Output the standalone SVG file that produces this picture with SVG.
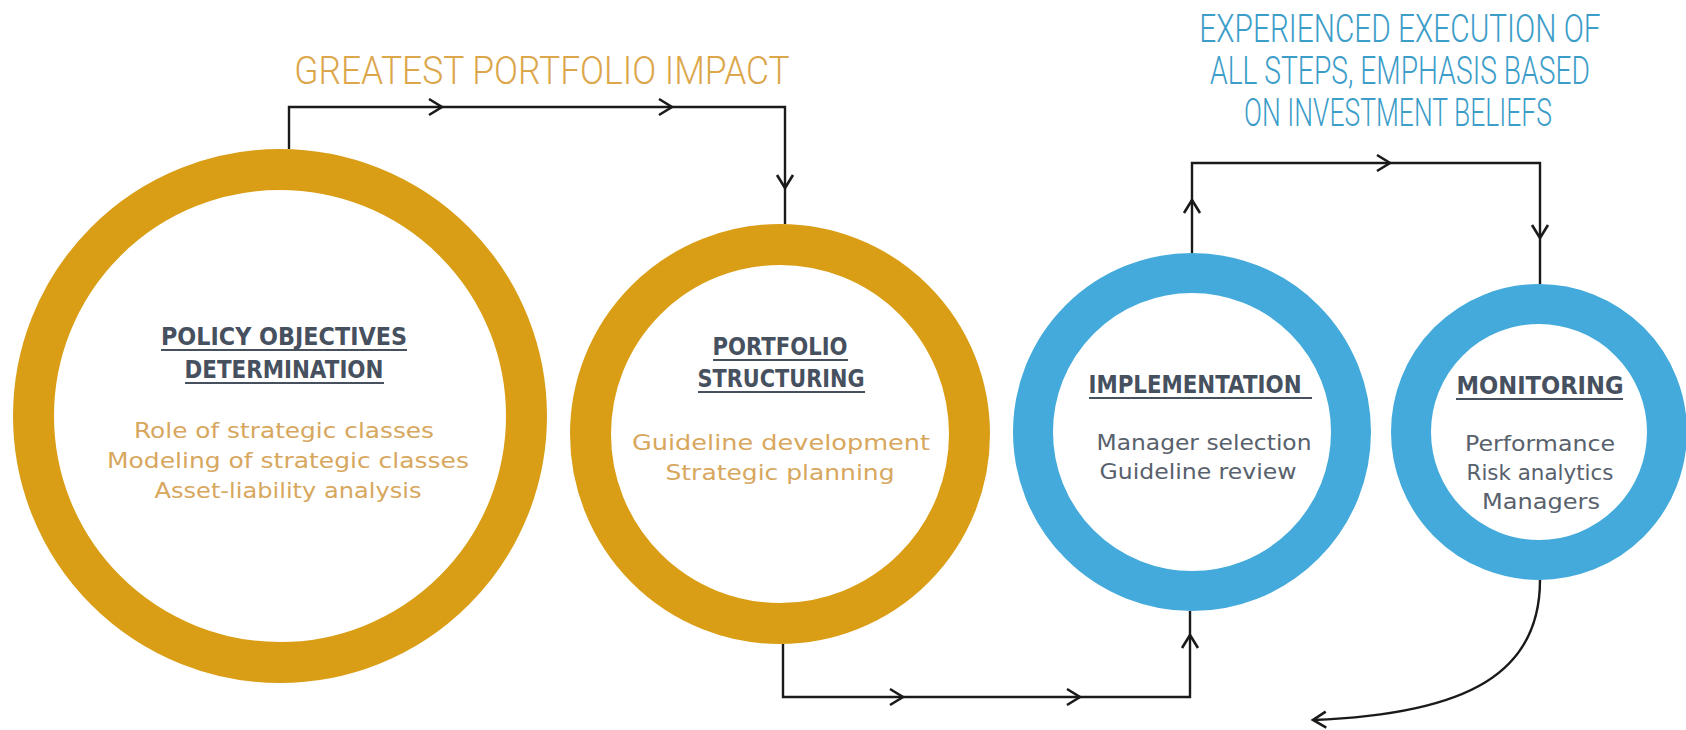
<svg xmlns="http://www.w3.org/2000/svg" xmlns:xlink="http://www.w3.org/1999/xlink" width="1686" height="730" viewBox="0 0 1686 730">
  <style>
    .ring-gold { fill: none; stroke: #DA9E16; }
    .ring-blue { fill: none; stroke: #43AADB; }
    .head { font-family: "DejaVu Sans", "Liberation Sans", sans-serif; font-weight: bold; font-size: 24px; fill: #46505E; text-anchor: middle; }
    .uline { stroke: #46505E; stroke-width: 2; }
    .body-gold { font-family: "DejaVu Sans", "Liberation Sans", sans-serif; font-size: 22px; fill: #D7A75E; text-anchor: middle; }
    .body-gray { font-family: "DejaVu Sans", "Liberation Sans", sans-serif; font-size: 22px; fill: #58616C; text-anchor: middle; }
    .title { font-family: Roboto, "Liberation Sans", sans-serif; font-weight: 300; font-size: 39px; text-anchor: middle; }
    .title-gold { fill: #DCA64A; }
    .title-blue { fill: #3C9DC9; }
    .wire { fill: none; stroke: #1A1A1A; stroke-width: 2.4; stroke-linejoin: miter; }
  </style>
  <defs>
    <path id="chev" d="M-13,-8 L0,0 L-13,8" fill="none" stroke="#1A1A1A" stroke-width="2.6" stroke-linejoin="miter"/>
  </defs>

  <!-- headings (narrowed horizontally for a condensed look) -->
  <g id="heading-impact">
    <text class="title title-gold" transform="translate(542,84) scale(0.86,1)" x="0" y="0" textLength="576" lengthAdjust="spacingAndGlyphs">GREATEST PORTFOLIO IMPACT</text>
  </g>
  <g id="heading-execution">
    <text class="title title-blue" transform="translate(1400,42) scale(0.76,1)" x="0" y="0" textLength="528" lengthAdjust="spacingAndGlyphs">EXPERIENCED EXECUTION OF</text>
    <text class="title title-blue" transform="translate(1400,84) scale(0.76,1)" x="0" y="0" textLength="500" lengthAdjust="spacingAndGlyphs">ALL STEPS, EMPHASIS BASED</text>
    <text class="title title-blue" transform="translate(1398,126) scale(0.76,1)" x="0" y="0" textLength="405" lengthAdjust="spacingAndGlyphs">ON INVESTMENT BELIEFS</text>
  </g>

  <!-- connectors -->
  <g id="connectors">
    <path class="wire" d="M289,149 V107 H785 V224"/>
    <use xlink:href="#chev" transform="translate(442,107)"/>
    <use xlink:href="#chev" transform="translate(672,107)"/>
    <use xlink:href="#chev" transform="translate(785,188) rotate(90)"/>

    <path class="wire" d="M783,644 V697 H1190 V611"/>
    <use xlink:href="#chev" transform="translate(903,697)"/>
    <use xlink:href="#chev" transform="translate(1080,697)"/>
    <use xlink:href="#chev" transform="translate(1190,635) rotate(-90)"/>

    <path class="wire" d="M1192,253 V163 H1540 V284"/>
    <use xlink:href="#chev" transform="translate(1192,200) rotate(-90)"/>
    <use xlink:href="#chev" transform="translate(1390,163)"/>
    <use xlink:href="#chev" transform="translate(1540,238) rotate(90)"/>

    <path class="wire" d="M1540,580 C1540,672 1470,714 1313,720"/>
    <use xlink:href="#chev" transform="translate(1313,720) rotate(178)"/>
  </g>

  <!-- step 1 -->
  <g id="node-policy">
    <circle class="ring-gold" cx="280" cy="416" r="246.5" stroke-width="41"/>
    <text class="head" x="284" y="345" textLength="246" lengthAdjust="spacingAndGlyphs">POLICY OBJECTIVES</text>
    <line class="uline" x1="161" y1="350" x2="407" y2="350"/>
    <text class="head" x="284" y="378" textLength="199" lengthAdjust="spacingAndGlyphs">DETERMINATION</text>
    <line class="uline" x1="185" y1="383" x2="384" y2="383"/>
    <text class="body-gold" x="284" y="438" textLength="300" lengthAdjust="spacingAndGlyphs">Role of strategic classes</text>
    <text class="body-gold" x="288" y="468" textLength="362" lengthAdjust="spacingAndGlyphs">Modeling of strategic classes</text>
    <text class="body-gold" x="288" y="498" textLength="267" lengthAdjust="spacingAndGlyphs">Asset-liability  analysis</text>
  </g>

  <!-- step 2 -->
  <g id="node-structuring">
    <circle class="ring-gold" cx="780" cy="434" r="189.5" stroke-width="41"/>
    <text class="head" x="780" y="355" textLength="135" lengthAdjust="spacingAndGlyphs">PORTFOLIO</text>
    <line class="uline" x1="713" y1="360" x2="848" y2="360"/>
    <text class="head" x="781" y="387" textLength="167" lengthAdjust="spacingAndGlyphs">STRUCTURING</text>
    <line class="uline" x1="698" y1="392" x2="865" y2="392"/>
    <text class="body-gold" x="781" y="450" textLength="298" lengthAdjust="spacingAndGlyphs">Guideline development</text>
    <text class="body-gold" x="780" y="480" textLength="229" lengthAdjust="spacingAndGlyphs">Strategic planning</text>
  </g>

  <!-- step 3 -->
  <g id="node-implementation">
    <circle class="ring-blue" cx="1192" cy="432" r="159" stroke-width="40"/>
    <text class="head" x="1195" y="393" textLength="213" lengthAdjust="spacingAndGlyphs">IMPLEMENTATION</text>
    <line class="uline" x1="1089" y1="398" x2="1312" y2="398"/>
    <text class="body-gray" x="1204" y="450" textLength="215" lengthAdjust="spacingAndGlyphs">Manager selection</text>
    <text class="body-gray" x="1198" y="479" textLength="197" lengthAdjust="spacingAndGlyphs">Guideline  review</text>
  </g>

  <!-- step 4 -->
  <g id="node-monitoring">
    <circle class="ring-blue" cx="1539" cy="432" r="128" stroke-width="40"/>
    <text class="head" x="1540" y="394" textLength="167" lengthAdjust="spacingAndGlyphs">MONITORING</text>
    <line class="uline" x1="1456" y1="399" x2="1623" y2="399"/>
    <text class="body-gray" x="1540" y="451" textLength="150" lengthAdjust="spacingAndGlyphs">Performance</text>
    <text class="body-gray" x="1540" y="480" textLength="147" lengthAdjust="spacingAndGlyphs">Risk analytics</text>
    <text class="body-gray" x="1541" y="509" textLength="118" lengthAdjust="spacingAndGlyphs">Managers</text>
  </g>
</svg>
